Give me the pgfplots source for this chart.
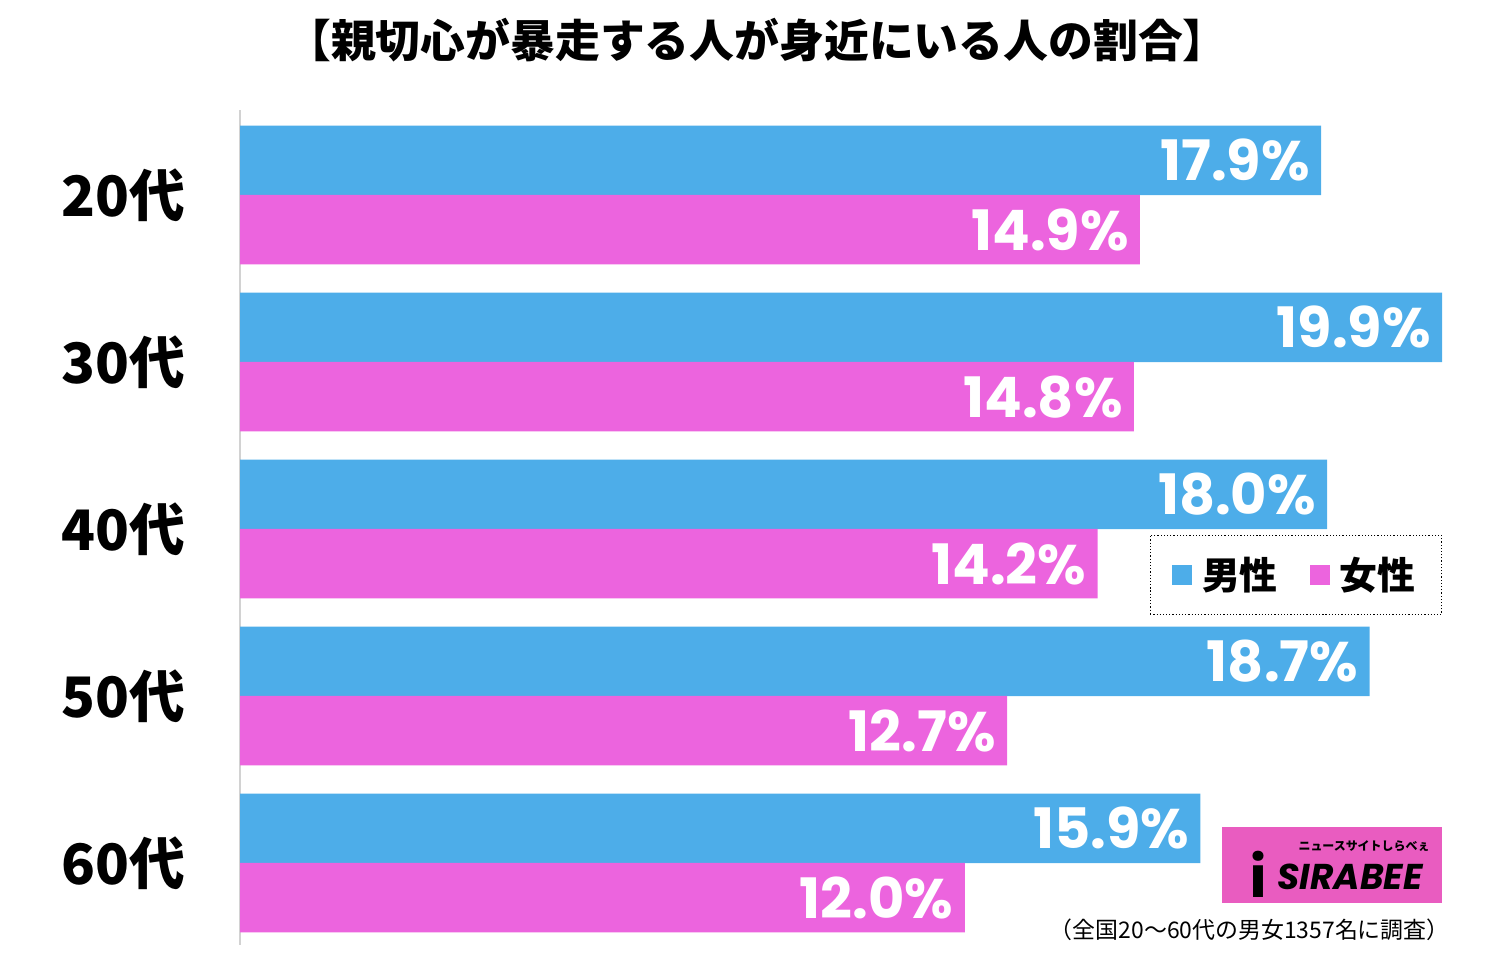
\documentclass[border=0pt]{standalone}
\usepackage{fontspec}
\usepackage{pgfplots}
\pgfplotsset{compat=1.18}
\setmainfont{Noto Sans CJK JP}
\newfontfamily\cjk{Noto Sans CJK JP}
\newfontfamily\pop{Poppins}
\definecolor{mblue}{RGB}{77,173,233}
\definecolor{fpink}{RGB}{236,100,222}
\definecolor{logopink}{RGB}{233,92,192}
\begin{document}
\begin{tikzpicture}
\path[use as bounding box] (0,0) rectangle (746.5bp,477bp);
\node[font=\cjk\bfseries\fontsize{22.5}{25}\selectfont] at (378.5bp,457bp) {【親切心が暴走する人が身近にいる人の割合】};
\begin{axis}[
 at={(120bp,4.5bp)}, anchor=south west,
 scale only axis, width=601bp, height=417.5bp,
 xmin=0, xmax=19.9, ymin=-0.491, ymax=4.509,
 xbar, bar width=34.75bp, bar shift=0pt,
 axis x line=none, axis y line=left,
 axis line style={-, draw=gray!35, line width=0.8pt},
 ytick={0,1,2,3,4}, yticklabels={60代,50代,40代,30代,20代},
 major tick length=0pt,
 yticklabel style={font=\cjk\bfseries\fontsize{28}{30}\selectfont, xshift=-24bp},
 point meta=explicit symbolic,
 nodes near coords,
 nodes near coords style={font=\pop\bfseries\fontsize{28}{30}\selectfont, text=white, anchor=east, inner sep=0pt, xshift=-5.5bp},
 legend style={at={(axis cs:17.48,1.725)}, anchor=center, draw=black, densely dotted, line width=0.6pt,
   font=\cjk\bfseries\fontsize{19}{21}\selectfont, inner xsep=11bp, inner ysep=9bp},
 legend columns=2,
 legend image code/.code={\fill[#1] (0bp,-5bp) rectangle (10bp,5bp);},
 /tikz/every odd column/.append style={column sep=3bp},
 /tikz/every even column/.append style={column sep=14bp},
 clip=false,
]
\addplot[fill=mblue, draw=none] coordinates {(17.9,4.2075)[17.9\%] (19.9,3.2075)[19.9\%] (18.0,2.2075)[18.0\%] (18.7,1.2075)[18.7\%] (15.9,0.2075)[15.9\%]};
\addplot[fill=fpink, draw=none] coordinates {(14.9,3.7925)[14.9\%] (14.8,2.7925)[14.8\%] (14.2,1.7925)[14.2\%] (12.7,0.7925)[12.7\%] (12.0,-0.2075)[12.0\%]};
\legend{男性,女性}
\end{axis}
\node[fill=logopink, minimum width=110bp, minimum height=38bp, inner sep=0pt] at (666bp,44.5bp) {};
\node[font=\bfseries\itshape\fontsize{28}{28}\selectfont] at (629bp,40bp) {i};
\node[font=\pop\bfseries\itshape\fontsize{18}{19}\selectfont, inner sep=0pt] at (675bp,38.5bp) {SIRABEE};
\node[font=\cjk\bfseries\fontsize{6}{7}\selectfont, inner sep=0pt] at (682bp,54bp) {ニュースサイトしらべぇ};
\node[anchor=east, font=\cjk\fontsize{11.5}{13}\selectfont, inner sep=0pt] at (725bp,12bp) {（全国20～60代の男女1357名に調査）};
\end{tikzpicture}
\end{document}
